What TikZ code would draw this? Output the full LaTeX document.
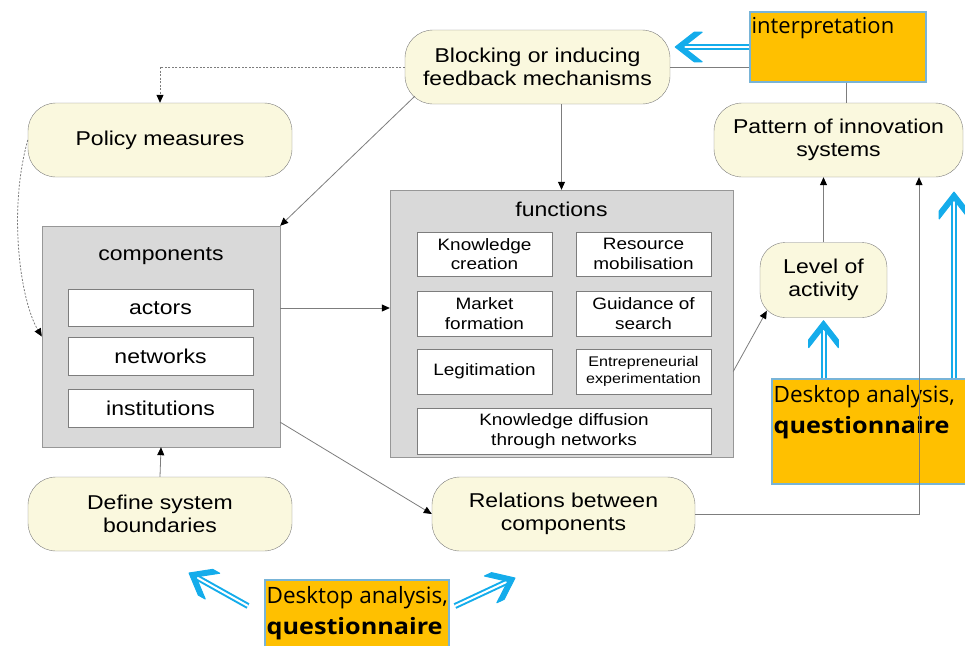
\documentclass[tikz,border=0pt]{standalone}
\usepackage{fontspec}
\setmainfont{Liberation Sans}[FakeStretch=1.15]
\newfontfamily\orangefont{Open Sans}[BoldFeatures={FakeStretch=1.12}]
\usetikzlibrary{arrows.meta,calc}

\definecolor{boxcream}{RGB}{250,248,222}
\definecolor{boxgray}{RGB}{217,217,217}
\definecolor{linegray}{RGB}{125,125,125}
\definecolor{skyblue}{RGB}{20,172,235}
\definecolor{gold}{RGB}{255,192,0}
\definecolor{goldedge}{RGB}{120,180,215}

\tikzset{
  phase/.style={draw=linegray, fill=boxcream, rounded corners=28pt, align=center,
    inner sep=2pt, font=\fontsize{20}{23}\selectfont},
  frame/.style={draw=linegray!80, fill=boxgray, inner sep=0pt},
  title/.style={font=\fontsize{20}{23}\selectfont, inner sep=1pt},
  cell/.style={draw=linegray, fill=white, align=center, inner sep=1pt,
    font=\fontsize{20}{23}\selectfont},
  fcell/.style={cell, minimum width=135pt, font=\fontsize{16.5}{19.5}\selectfont},
  goldbox/.style={draw=goldedge, line width=1.2pt, fill=gold, inner sep=0pt},
  goldtext/.style={anchor=north west, align=left, inner sep=2pt, yshift=-5pt,
    font=\orangefont\fontsize{22.5}{31}\selectfont},
  link/.style={draw=linegray, line width=0.8pt},
  arrowlink/.style={link, -{Triangle[length=8pt,width=7pt,color=black]}},
  dashlink/.style={arrowlink, dash pattern=on 2pt off 1.5pt},
  skyshaft/.style={draw=skyblue, line width=2pt, double=white, double distance=2pt},
  skyhead/.style={fill=skyblue, draw=skyblue, line width=1pt, line join=round}
}

\begin{document}
\begin{tikzpicture}[x=1pt, y=-1pt]
\useasboundingbox (0,0) rectangle (965,645);

\newcommand{\skyarrow}[2]{%
  \coordinate (tail) at (#1);
  \coordinate (tip) at (#2);
  \coordinate (notch) at ($(tip)!8pt!(tail)$);
  \draw[skyshaft] (tail) -- ($(tip)!5pt!(tail)$);
  \filldraw[skyhead] (tip) -- ($(tip)!24pt!38:(tail)$) -- ($(notch)!24pt!38:(tail)$)
    -- (notch) -- ($(notch)!24pt!-38:(tail)$) -- ($(tip)!24pt!-38:(tail)$) -- cycle;
}

% grey frames with their titles
\node[frame, minimum width=238pt, minimum height=221pt] (components) at (161,336.5) {};
\node[title] (comptitle) at (161,256) {components};
\node[frame, minimum width=343pt, minimum height=267pt] (functions) at (561.5,323.5) {};
\node[title] (functitle) at (561.5,209) {functions};

% parts of the system
\node[cell, minimum width=185pt, minimum height=37pt] (actors) at (160.5,308) {actors};
\node[cell, minimum width=185pt, minimum height=38pt] (networks) at (160.5,356) {networks};
\node[cell, minimum width=185pt, minimum height=38pt] (institutions) at (160.5,408) {institutions};

% the seven functions
\node[fcell, minimum height=44pt] (knowledge) at (484.5,254) {Knowledge\\creation};
\node[fcell, minimum height=44pt] (resource) at (643.5,254) {Resource\\mobilisation};
\node[fcell, minimum height=45pt] (market) at (484.5,313.5) {Market\\formation};
\node[fcell, minimum height=45pt] (guidance) at (643.5,313.5) {Guidance of\\search};
\node[fcell, minimum height=45pt] (legit) at (484.5,371.5) {Legitimation};
\node[fcell, minimum height=45pt, font=\fontsize{14}{16.5}\selectfont] (entre) at (643.5,371.5) {Entrepreneurial\\experimentation};
\node[fcell, minimum width=294pt, minimum height=46pt] (diffusion) at (564,431) {Knowledge diffusion\\through networks};

% rounded steps
\node[phase, minimum width=265pt, minimum height=74pt] (block) at (537.5,67) {Blocking or inducing\\feedback mechanisms};
\node[phase, minimum width=264pt, minimum height=74pt] (policy) at (160,140) {Policy measures};
\node[phase, minimum width=249pt, minimum height=74pt] (pattern) at (838.5,140) {Pattern of innovation\\systems};
\node[phase, minimum width=127pt, minimum height=75pt, rounded corners=25pt] (level) at (823.5,280) {Level of\\activity};
\node[phase, minimum width=264pt, minimum height=74pt] (define) at (160,514) {Define system\\boundaries};
\node[phase, minimum width=263pt, minimum height=74pt] (relations) at (563.5,514) {Relations between\\components};

% orange notes
\node[goldbox, minimum width=176pt, minimum height=70pt,
  label={[goldtext, yshift=1pt, font=\orangefont\fontsize{22}{31}\selectfont]north west:interpretation}] (interp) at (838,47) {};
\node[goldbox, minimum width=200pt, minimum height=105pt,
  label={[goldtext]north west:Desktop analysis,\\\textbf{questionnaire}}] (desk) at (872,431.5) {};
\node[goldbox, minimum width=184pt, minimum height=75pt,
  label={[goldtext]north west:Desktop analysis,\\\textbf{questionnaire}}] (deskbottom) at (357,617.5) {};

% grey connectors
\draw[link] (block.east) -- (block.east -| interp.west);
\draw[link] ([xshift=8pt]interp.south) -- ([xshift=8pt]interp.south |- pattern.north);
\draw[dashlink] (block.west) -| (policy.north);
\draw[dashlink] (policy.west) .. controls (8,210) and (20,300) .. (components.west);
\draw[arrowlink] ([xshift=10pt,yshift=8pt]block.south west) -- (components.north east);
\draw[arrowlink] (block.south -| functions.north) -- (functions.north);
\draw[arrowlink] (actors -| components.east) -- (actors -| functions.west);
\draw[arrowlink] ([yshift=25pt]components.south east) -- (relations.west);
\draw[arrowlink] (define.north) -- (components.south);
\draw[arrowlink] (legit -| functions.east) -- ([xshift=7pt,yshift=7pt]level.south west);
\draw[arrowlink] (level.north) -- (level.north |- pattern.south);
\draw[arrowlink] (relations.east) -| ([xshift=80.5pt]pattern.south);

% blue double arrows
\coordinate (patternfeed) at (954,192);
\coordinate (definefeed) at (189,573);
\coordinate (relationsfeed) at (515,578);
\coordinate (bottomleft) at (248,606);
\coordinate (bottomright) at (455,606);
\skyarrow{interp.west}{[xshift=5pt]block.east |- interp.west}
\skyarrow{desk.north -| level.south}{[yshift=-3pt]level.south}
\skyarrow{desk.north -| patternfeed}{patternfeed}
\skyarrow{bottomleft}{definefeed}
\skyarrow{bottomright}{relationsfeed}

\end{tikzpicture}
\end{document}
